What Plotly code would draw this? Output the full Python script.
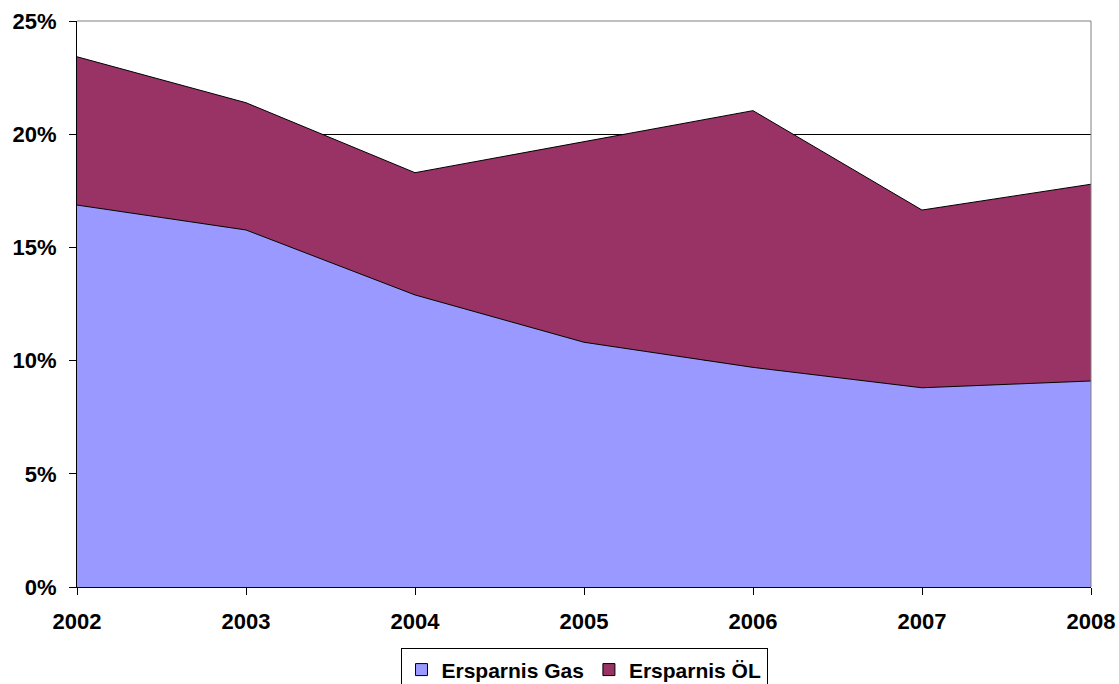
import plotly.graph_objects as go

years = [2002, 2003, 2004, 2005, 2006, 2007, 2008]
ersparnis_gas = [16.87, 15.77, 12.90, 10.81, 9.70, 8.80, 9.10]
ersparnis_oel = [6.55, 5.62, 5.40, 8.86, 11.34, 7.85, 8.69]
y_ticks = [0, 5, 10, 15, 20, 25]
y_tick_labels = ["0%", "5%", "10%", "15%", "20%", "25%"]

series_names = ["Ersparnis Gas", "Ersparnis ÖL"]
series_colors = ["#9999FF", "#993366"]

font_family = "Liberation Sans, Arial, sans-serif"

fig = go.Figure()
for name, values, color in zip(series_names, [ersparnis_gas, ersparnis_oel], series_colors):
    fig.add_trace(go.Scatter(
        x=years, y=values, name=name, mode="lines",
        stackgroup="one", line=dict(color="#000000", width=1),
        fillcolor=color, showlegend=False,
    ))

# square legend keys
for name, color in zip(series_names, series_colors):
    fig.add_trace(go.Scatter(
        x=[None], y=[None], name=name, mode="markers",
        marker=dict(symbol="square", size=12, color=color,
                    line=dict(color="#000000", width=1)),
        showlegend=True,
    ))

# plot area frame: grey top/right border
fig.add_shape(type="line", xref="paper", yref="paper", x0=0, x1=1, y0=1, y1=1,
              line=dict(color="#808080", width=1))
fig.add_shape(type="line", xref="paper", yref="paper", x0=1, x1=1, y0=0, y1=1,
              line=dict(color="#808080", width=1))

fig.update_layout(
    width=1119, height=684,
    margin=dict(l=77, r=28, t=21, b=97, autoexpand=False),
    paper_bgcolor="white", plot_bgcolor="white",
    font=dict(family=font_family, size=22, color="black"),
    showlegend=True,
    legend=dict(
        orientation="h", x=0.5, xanchor="center", xref="paper",
        y=0.052, yanchor="top", yref="container",
        bordercolor="#000000", borderwidth=1,
        font=dict(family=font_family, size=21, color="black", weight="bold"),
        itemwidth=30, tracegroupgap=0,
        traceorder="normal",
    ),
    hovermode=False,
)
fig.update_xaxes(
    range=[2002, 2008], tickmode="array", tickvals=years,
    ticktext=[str(y) for y in years],
    showgrid=False, zeroline=False, automargin=False,
    showline=True, linecolor="black", linewidth=1,
    ticks="outside", ticklen=7, tickcolor="black",
    ticklabelstandoff=8,
    tickfont=dict(family=font_family, size=22, weight="bold"),
)
fig.update_yaxes(
    range=[0, 25], tickmode="array", tickvals=y_ticks, ticktext=y_tick_labels,
    showgrid=True, gridcolor="#000000", gridwidth=1, zeroline=False, automargin=False,
    showline=True, linecolor="black", linewidth=1,
    ticks="outside", ticklen=7, tickcolor="black",
    ticklabelstandoff=8,
    tickfont=dict(family=font_family, size=22, weight="bold"),
)

fig.write_html("out.html")
